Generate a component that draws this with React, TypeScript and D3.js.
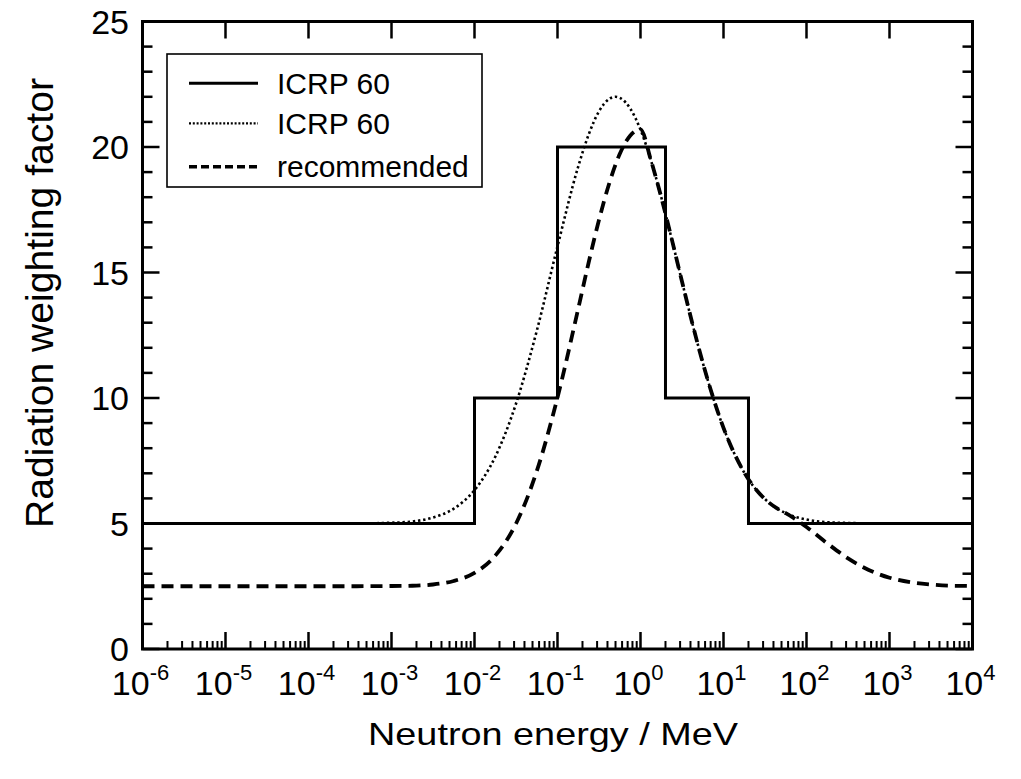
import React from "react";
import * as d3 from "d3";

// ICRP 60 step function (MeV, weighting factor)
const stepEnergy = [1e-6, 1e-2, 1e-1, 2, 20, 1e4];
const stepValue = [5, 10, 20, 10, 5, 5];

// ICRP 60 continuous (dotted)
const dotEnergy = [1e-6, 1e-5, 1e-4, 3.16e-4, 1e-3, 1.78e-3, 3.16e-3, 5.62e-3, 0.01, 0.0178, 0.0316, 0.0562, 0.1, 0.178, 0.237, 0.316, 0.422, 0.5, 0.562, 0.75, 1, 1.334, 1.778, 2.371, 3.162, 4.217, 5.623, 10, 17.78, 31.62, 56.23, 100, 177.8, 316.2, 1000, 10000];
const dotValue = [5, 5, 5, 5, 5.03, 5.08, 5.24, 5.59, 6.33, 7.66, 9.77, 12.67, 16.04, 19.23, 20.49, 21.42, 21.92, 22.0, 21.96, 21.54, 20.69, 19.48, 18.0, 16.35, 14.64, 12.97, 11.41, 8.81, 7.03, 5.97, 5.41, 5.16, 5.05, 5.02, 5.0, 5.0];

// recommended (dashed)
const dashEnergy = [1e-6, 1e-5, 1e-4, 3.16e-4, 1e-3, 1.78e-3, 3.16e-3, 5.62e-3, 0.01, 0.0178, 0.0316, 0.0562, 0.1, 0.178, 0.237, 0.316, 0.422, 0.562, 0.75, 1, 1.334, 1.778, 2.371, 3.162, 4.217, 5.623, 10, 17.78, 31.62, 50, 56.23, 100, 177.8, 316.2, 562.3, 1000, 1778, 3162, 5623, 10000];
const dashValue = [2.5, 2.5, 2.5, 2.5, 2.51, 2.52, 2.57, 2.71, 3.03, 3.72, 4.99, 7.08, 10.02, 13.57, 15.39, 17.09, 18.57, 19.72, 20.45, 20.7, 19.48, 18.0, 16.35, 14.64, 12.97, 11.41, 8.81, 7.03, 5.97, 5.5, 5.41, 4.86, 4.21, 3.61, 3.15, 2.84, 2.66, 2.57, 2.52, 2.51];

const xExponents = [-6, -5, -4, -3, -2, -1, 0, 1, 2, 3, 4];
const yTickLabels = [0, 5, 10, 15, 20, 25];
const legendLabels = ["ICRP 60", "ICRP 60", "recommended"];

const W = 1021;
const H = 779;
const L = 142.5, R = 972.5, T = 21.5, B = 649;
const FONT = "Arial, 'Liberation Sans', Helvetica, sans-serif";

export default function App() {
  const x = d3.scaleLog().domain([1e-6, 1e4]).range([L, R]);
  const y = d3.scaleLinear().domain([0, 25]).range([B, T]);

  const toPts = (es: number[], vs: number[]) => es.map((e, i) => [e, vs[i]] as [number, number]);
  const stepLine = d3.line<[number, number]>().x(d => x(d[0])).y(d => y(d[1])).curve(d3.curveStepAfter);
  const smoothLine = d3.line<[number, number]>().x(d => x(d[0])).y(d => y(d[1])).curve(d3.curveMonotoneX);

  const minorX: number[] = [];
  for (let p = -6; p < 4; p++) for (let k = 2; k <= 9; k++) minorX.push(k * Math.pow(10, p));
  const yUnits = d3.range(0, 26);

  const legendRows = [
    { y: 83.3, dash: null, w: 3 },
    { y: 123.3, dash: "2,1.8", w: 2.2 },
    { y: 166.7, dash: "8,4", w: 3.5 },
  ];
  const textBase = [93.5, 133.5, 177];

  return (
    <svg width={W} height={H} style={{ position: "absolute", left: 0, top: 0, background: "#fff" }} fontFamily={FONT}>
      <rect x={0} y={0} width={W} height={H} fill="#fff" />
      <defs>
        <clipPath id="plot">
          <rect x={L} y={T} width={R - L} height={B - T} />
        </clipPath>
      </defs>
      <g clipPath="url(#plot)" fill="none" stroke="#000">
        <path d={stepLine(toPts(stepEnergy, stepValue)) || ""} strokeWidth={3} />
        <path d={smoothLine(toPts(dotEnergy, dotValue)) || ""} strokeWidth={2.6} strokeDasharray="2.4,2.8" />
        <path d={smoothLine(toPts(dashEnergy, dashValue)) || ""} strokeWidth={3.8} strokeDasharray="12,7" />
      </g>
      {/* ticks */}
      <g stroke="#000" strokeWidth={2.5}>
        {xExponents.map(p => (
          <g key={"xt" + p}>
            <line x1={x(Math.pow(10, p))} x2={x(Math.pow(10, p))} y1={B} y2={B - 17} />
            <line x1={x(Math.pow(10, p))} x2={x(Math.pow(10, p))} y1={T} y2={T + 17} />
          </g>
        ))}
        {minorX.map((v, i) => (
          <line key={"xm" + i} x1={x(v)} x2={x(v)} y1={B} y2={B - 8} strokeWidth={2} />
        ))}
        {yUnits.map(v => {
          const len = v % 5 === 0 ? 17 : 10;
          return (
            <g key={"yt" + v}>
              <line x1={L} x2={L + len} y1={y(v)} y2={y(v)} />
              <line x1={R} x2={R - len} y1={y(v)} y2={y(v)} />
            </g>
          );
        })}
      </g>
      <rect x={L} y={T} width={R - L} height={B - T} fill="none" stroke="#000" strokeWidth={3} />
      {/* y tick labels */}
      {yTickLabels.map(v => (
        <text key={"yl" + v} x={129} y={y(v) + 12} textAnchor="end" fontSize={34} fill="#000">
          {v}
        </text>
      ))}
      {/* x tick labels */}
      {xExponents.map(p => (
        <text key={"xl" + p} x={x(Math.pow(10, p)) - 2} y={695} textAnchor="middle" fontSize={34} fill="#000">
          10
          <tspan fontSize={22} dy={-15}>{p < 0 ? "-" + Math.abs(p) : String(p)}</tspan>
        </text>
      ))}
      {/* axis titles */}
      <text x={553} y={745} textAnchor="middle" fontSize={32} textLength={370} lengthAdjust="spacingAndGlyphs" fill="#000">
        Neutron energy / MeV
      </text>
      <text
        transform={`translate(53,303) rotate(-90)`}
        textAnchor="middle"
        fontSize={38}
        textLength={450}
        lengthAdjust="spacingAndGlyphs"
        fill="#000"
      >
        Radiation weighting factor
      </text>
      {/* legend */}
      <rect x={167} y={54} width={315} height={133} fill="#fff" stroke="#000" strokeWidth={1.6} />
      {legendRows.map((r, i) => (
        <g key={"lg" + i}>
          <line x1={189} x2={258} y1={r.y} y2={r.y} stroke="#000" strokeWidth={r.w} strokeDasharray={r.dash || undefined} />
          <text x={277} y={textBase[i]} fontSize={30} fill="#000">
            {legendLabels[i]}
          </text>
        </g>
      ))}
    </svg>
  );
}
